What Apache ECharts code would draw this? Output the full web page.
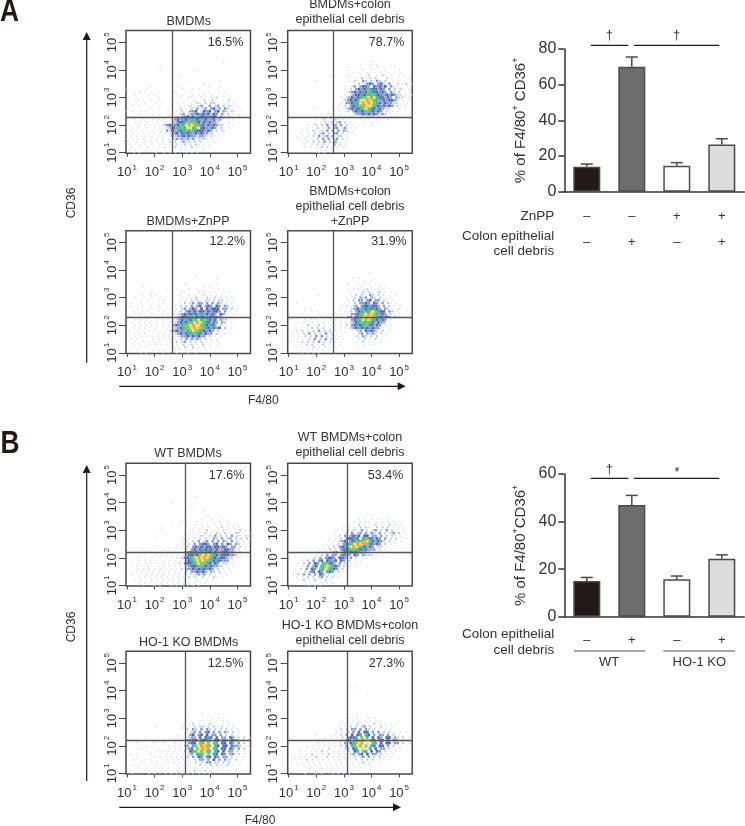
<!DOCTYPE html>
<html>
<head>
<meta charset="utf-8">
<style>html,body{margin:0;padding:0;background:#fff}#chart{width:745px;height:826px}</style>
<script src="https://cdn.jsdelivr.net/npm/echarts@6/dist/echarts.min.js"></script>
</head>
<body>
<div id="chart"></div>
<script>
// bar values
var groupsA = ['BMDMs', 'BMDMs+debris', 'BMDMs+ZnPP', 'BMDMs+debris+ZnPP'];
var meanA = [14, 70, 14.6, 26.4];
var errTopA = [15.5, 75.5, 16.3, 29.7];
var znppSigns = ['–', '–', '+', '+'];
var debrisSignsA = ['–', '+', '–', '+'];
var groupsB = ['WT', 'WT+debris', 'HO-1 KO', 'HO-1 KO+debris'];
var meanB = [15, 47, 15.7, 24.4];
var errTopB = [16.5, 51, 17.1, 26];
var debrisSignsB = ['–', '+', '–', '+'];
var barColors = ['#231815', '#6d6d6d', '#ffffff', '#dcdddd'];

// flow panels
var decades = [1, 2, 3, 4, 5];
var percentages = ['16.5%', '78.7%', '12.2%', '31.9%', '17.6%', '53.4%', '12.5%', '27.3%'];
var gateX = [2.63, 2.63, 2.63, 2.62, 3.1, 3.11, 3.12, 3.11];
var gateY = [2.29, 2.29, 2.29, 2.3, 2.2, 2.2, 2.2, 2.2];

// density, one char per 0.1 decade
// last row is 10^1.0 going up, first column is 10^1.0 going right
var dotsA1 = [
'.....................................1','','..............1','............................1','',
'......................1','','.........................1..........1','..............................1',
'...........1.........1..........1...1','..1......1............1...1.1......1',
'.......1.1....1.....1.....1.....1...1.1','.....1....1.1.......1.1...1.1.1..1...1.1',
'...1..1.......1.......1..11..1.1.1.2.1..1','.1....1.1..1......1.....1.11..2.12...1.2.1',
'...1.....1...1.1.....1.1..1.21.2.22.1.11.1','.1..1.1.......1...1..1.1.2.1231.3.23.2.21.1',
'...1.......1..1....1..2.1.213.23.3423.32.1','..1.1..1.1.......1..1.2.1334.2434.34.32.21.1',
'.......1....1.1...1.1.23.23343434243.3.2.1.1','1..1..1...1...1..1.1223343425445344.32.21.1',
'.1...1..1...1.1.1..1343543564534334232.1.1','..1..1.1.1...1..1.123445366543434332.1.1',
'.1.1...1.1.1..1.2343546576786543434322.1.1','..1.1.1..1..1.1.1234356577567443343.21.1',
'.1..1.1.1...1..1.32435456565444343.2.21','..1.1...1.1.1.1.1.2343454534343322.1.1',
'.1..1.1..1.1..1.1.13233434332332.21.1','..1.1.1.1..1.1.1.1.23232323.2221.1.1',
'...1..1..1.1.1..1.2.2.132212.21.1.1','.1.1...1.1.1..1.1.1.2.12.2.21.1.1',
'..1.1..1..1...1.1.1.2.1.1.2.1.1.1','...1.1...1.1.1..1.1..1.1.1.1..1','.....1.1.....1..1.1.1...1.1.1'];
var dotsA2 = [
'..............................1','..........................1...1.1','.....................1.......1..1.1...1',
'...........................1..11...1....1','.......................1.1..11.1.1..1.1.1','...............1......1...1.12..1.21.1..1.1',
'.....................1..1.2.12.21..2.1.1...1','..........1...........1.21.32.2.32.21.1.1.1','.......................1.2.2343.342.31.2.12.1',
'.....................1.23.3443.43434.32.11.1','....................1.2.34343544343.3.2.21.1.1','.....................123434546544343.32.2.1.1',
'....................1.2344546565453434322.1.1','...................1.23434566767544343.3221.1.1','...................123454677876563434432.1.1',
'...................1.3345578787654343322.1.1','..................1.2.3456687765434343.21.1','.........1......1.1.12345456765434322.1.1.1',
'..............1.1.1.12.34545654343.211.1','............1.1..1.1..1.233434343232.1.1','...........1.1.11.1.1.1.1.21222.2.1.1.1',
'..........1.12.1.21.1.1...1.11..1.1.1','.........1.1.212.23.2.1....1..1.1','.......1.12.2.3.23.3.2.1......1',
'......1.1.2.1.3.33.23.1.1','.....1.1.21.2.3.3.3.32.1','....1..1.2.23.2.33.2.1.1','...1.1.1.2.3.23.3.22.1',
'...1..1.1.2.3.3.23.2.1','.....1.1.2.2.3.2.3.1.1','.....1..1.2.2.1.3.2.1','......1.1.1.2.2.1.1.1','.........1.1.1.1.1','...........1.1'];
var dotsA3 = [
'.........................1','................................1','','.....................1..........1','......1.....................1.1',
'..............1.......1..1.....1.1','.........1..........1.....1.1.1.1..1.1','.....1..1.1........1..1.1..11.1.1.1',
'...1.....1..1.......1.11.2.1.21.2.1.1.1','.....1.1...1.1.....1.1.2.21.22.2.22.1.1','..1..1.......1.....1.2.23.33.3.3.32.1.1',
'.1...1..1..1.....1.2.2.3.34.343.43.32.1','....1....1..1...1.1.23.343.4.43444.33.2.1','..1..1.1...1.1...1.2.3434344343443.3.1.1',
'...1.1...1...1.1.1.23434543534343.43.1.1','.1..1.1.1.1...1.1.23445364543544332.1','...1.1.1...1.1.1.1234354657565434.322.1',
'.1..1.1.1.1..1.1.2345465767654343.32.1','...1.1.1.1.1.1.1.3435667877654543.2.1.1','..1.1.1.1.1...1.123456678786543434.2.1',
'.1..1.1.1.1.1.1.2343565676654343.2.1','..1.1.1..1.1.1.1.23434556543433.21.1','...1.1.1.1.1.1.1.1.2334343433.2.1.1',
'.1.1.1...1.1.1.1.1.2.313232.2.1.1','...1..1.1.1.1...1.2.23.2.2.2.1.1.1','..1.1...1.1.1.1.1.1.2.12.1.21.1.1',
'.....1.1...1...1.1.1.21.2.1.1.1','...1.....1.1.1...1.1.1.1.1.1','.....1.1.....1....1.1.1..1'];
var dotsA4 = [
'.............................1','','.......................1.1','...........................1..1',
'.....................1...1.1.1.1','........................1.11..1..1.1','.....................1.1.1.12.1.1.1',
'......................1..1.2.21.12.1.1','..........1...........1.2.21.32.2.1.1.1','.....................1.12.323.32.2.1.1',
'.....................1.2.33.34.33.21.1','...1..................1.2.3343.43.3.21.1','...................1.1.23.3445443.3.2.1.1',
'......1.1..........1.1.23435454543.32.1.1','........1.1.......1.1.2.34565676544.32.1','.....1.....1.....1.1.1.3346678765343.21.1',
'...1..1..1...1...1.1.23.4567878654343.21.1','.1....1.1.1..1.1.1.1.1.3456767654343.1','...1.1..1.1.1.1.1.1.1.2345656543433.1',
'.....1.2.1.2.1.1.1.1.2.34545654343.1.1','..1.1.1.2.2.2.1.1.1.1.23434543433.1.1','...1.2.1.2.3.2.2.1.1...1.23.43432.2.1',
'.1.1.2.3.2.2.3.2.1.1...1.23.3232.2.1','..1.1.2.2.3.3.2.2.1.....12.32.2.2.1','...1.1.2.3.2.3.2.1.1.....1.2.1.2.1.1',
'.1.1.2.2.2.3.2.2.1.1.....1.2.1.1.1','..1.1.2.2.1.2.1.1.1........1.1.1','...1.1.1.2.1.1.1.1.......1.1','....1.1.1.1.1.1','.....1.1.1.1'];
var dotsB1 = [
'........................1','','...............1','......................1','','..........................1','',
'............................1...1','..........................1...1...1','..................1.1...1.....1.1..1',
'...............1........1.1.1..1.1..1.1','...........1........1..1..1.1..1.2.1.1.1','...........1...........1.1.12.1.1.2.1.1.2.1',
'.....................1.1.1.2.1.21.2.1.22.1.1','....................1.1.1.21.2.3.2.2.3.21.2','.........1.........1.1.1.2.21.32.3.23.2.2.21',
'...................1.1.2.3.23.3.3.32.3.2.1','.................1.1.2.3.3443.34.3.43.32.1','...........1.....1.1.2.3434344344343.33.2.1',
'....1.......1.1.1.1.2.3434545434334433.2.1','..1...1.1.1...1.1.1.2345465654343344332.1','...1.1...1.1.1.1.1.13445467876543444332.1',
'.1.1..1.1..1.1.1.1.2345678787654344322.1','...1.1.1.1..1.1.1.1.3456767865454333.1','.1.1..1.1.1.1.1.1.2.3445676654343.22.1',
'..1.1.1...1.1.1.1.1.23445654543322.1.1','...1.1.1.1.1.1.1.1.2.3343454343.2.1.1','..1.1.1.1.1.1.1.1.1.2.334343.32.2.1.1',
'.1..1.1.1.1.1.1.1.1.1.2.2323.2.1.1.1','...1.1.1.1.1.1.1.1.1.2.21.2.1.21.1','..1.1...1.1.1.1.1.1.1.1.1.1.1.1','...1.1.1...1.1.1.1.1.1.1.1.1','.....1...1.1...1.1.1.1.1.1'];
var dotsB2 = [
'.............................1.1.....1','...........................1.1..1.1..1','.........................1.1.11..1.1.1.1',
'.......................1.1.2.1.1.21.1.2.1.1','.....................1.1.1.2.21..2.2.2.1.1.1','...................1.1.2.21.3.2.23.2.3.2.1.1',
'..................1.1.2.3.23.3.32.3.2.23.2.1','..................1.2.3.3434.44.33.3.2.21.1','................1.1.2.34454.5654343.3.2.2.1.1',
'................1.1.234.5465687543432.2.1.1','...............1.1.2.34567878654343.2.1.1','..............1.1.2.3456787654343.22.1.1',
'............1.1.2.2.3445665454333.2.1.1','...........1.1.2.233.34545433322.1.1','.........1.1.2.3.33.3433.43.3222.1.1',
'.......1.1.2.3.3443.443.3.2.1.1.1','......1.2.3.34.4534.43.2.1.1','.....1.2.3.45.56543.3.2.1.1','....1.1.3.34.5676543.2.1.1',
'....1.2.3.45.6576543.2.1','...1.1.2.34.45.543.2.1','...1.2.3.3.3.43.2.1.1','....1.1.2.2.23.2.2.1','.....1.2.1.2.1.2.1','.......1.1.1.1.1.1','.........1.1.1'];
var dotsB3 = [
'...........................1','......................1....1.1','...............................1.1.1','.....................1.1..11.1..1.1.1',
'.....................1.12.1.1.21.1.1.1','..........1.........1.1.2.22.2.21.2.1.1','....................1.2.32.3.32.2.2.2.1.1',
'.....................1.23.3.34.3.3.32.2.1','...................1.1.34.34.4.33.3.2.2.1','......1.........1.1.1.233.4.454.4.33.43.2.2.1',
'..........1.....1.1.1.3344.5456.44.43.433.2.1','...1.....1...1...1.1.1344.6576.65.44.43.3.2','.......1.......1.1.1.23.5678786.54.44.4332.1','...1.1.....1...1.1.1.234.67878.65.44.43.3.2.1',
'.......1...1.1.1.1.1.2.45676765.54.4.33.2.1','.1.1....1.....1.1.1.1.23.556.6.54.43.33.2.1','....1.....1.1.1.1.1.1.2.3.45.54.43.33.2.1.1','..1...1.1.....1.1.1.1.1.2.33.3.4.3.322.2.1',
'.....1...1.1...1.1.1.1.1.2.2.33.22.2.2.1.1','..1.1.....1.1.....1.1.1.1.2.1.2.2.1.2.1','....1..1.....1.1...1.1.1.1.1.1.1.1.1','......1.1...1.1...1.1.1.2.1.2.1.1.1.1','..1.....1.1...1.1.1.1.1.1.1.1.1'];
var dotsB4 = [
'.......................1.1.','','.............................1','','','','','','','',
'.........................1...1','......................1.1.1...1.1','....................1.1.1.1.1.1.1.1','....................1.1.1.2.1.1.2.1.1.1.1',
'...................1.1.2.2.23.2.1.2.1.1','..................1.2.2.33.3.32.2.1.1.1','..................1.1.2.3.4.44.3.3.2.2.1.1.1','...........1....1.1.2.3.4.45.54.3.33.3.2.1',
'..............1.1.1.2.3445.6.5.4.43.44.32.2.1','............1.1.1.1.2.34.56787.54.44.4.33.2.1','...........1.1.1.1.1.3.45678.7.65.4.44.33.2.1','........1.1.1.1.1.1.2.3.5678.6.54.44.3.2.1',
'.......1.1.1.1.2.1.1.23.45.77.5.4.33.2.1.1','.....1.1.1.1.2.1.1.1.1.2.45.65.4.43.2.1.1','.....1.1.2.1.1.2.1.1.1.23.34.4.33.2.1.1','...1.1.1.1.2.1.2.1.1.1.1.2.23.3.2.2.1.1',
'...1.1.2.1.1.1.1.1.1.1.1.2.2.2.2.1.1.1','..1.1.1.1.1.1.1.1.1.1.1.1.1.2.1.1.1','....1.1.1.1.1.1.1.1...1.1.1.1.1','.......1.1...1.1.1.1.1.1.1.1','....1...1.1...1.1.1.1.1.1.1','.......1...1.1...1.1.1.1'];

var panelDots = [dotsA1, dotsA2, dotsA3, dotsA4, dotsB1, dotsB2, dotsB3, dotsB4];
var panelShift = [-0.25, 0, 0, 0, 0.1, -0.15, 0, -0.1];
var levelColors = ['', '#d6ddf0', '#a9b9e3', '#5f7dca', '#27429f', '#2b9aa6', '#58bb52', '#ece03c', '#ee8a2a'];
var levelSizes = [0, 1.6, 2, 2.4, 2.7, 3, 3, 3, 3];

var font = '"Liberation Sans", Arial, sans-serif';
var ink = '#333';
var frameColor = '#4a4a4a';

// rectangles of the plots on the page
var panelBox = [
  [126, 30.6], [287.7, 30.6], [126, 230.7], [287.7, 230.7],
  [126, 463.3], [287.7, 463.3], [126, 651.3], [287.7, 651.3]
];

function rowsToPoints(rows, dx) {
  var pts = [];
  rows.forEach(function (row, r) {
    var y = 1 + (rows.length - 1 - r) / 10;
    // every other row sits half a bin over so the dots do not form columns
    var shift = (rows.length - 1 - r) % 2 ? 0.05 : 0;
    for (var c = 0; c < row.length; c++) {
      var lev = parseInt(row[c], 10);
      if (lev) pts.push([1 + c / 10 + shift + dx, y, lev]);
    }
  });
  return pts.sort(function (a, b) { return a[2] - b[2]; });
}

var grids = [], xAxes = [], yAxes = [], series = [];

panelBox.forEach(function (box, i) {
  grids.push({
    left: box[0], top: box[1], width: 124.5, height: 122.7,
    show: true, borderColor: frameColor, borderWidth: 1.5
  });
  xAxes.push({
    gridIndex: i, type: 'value', min: 0.964, max: 5.475,
    splitLine: { show: false },
    axisLine: { show: false },
    axisTick: { length: 3.5, customValues: decades, lineStyle: { color: frameColor, width: 1 } },
    axisLabel: {
      customValues: decades, margin: 10,
      formatter: function (v) { return '{b|10}{s|' + v + '}'; },
      rich: {
        b: { fontSize: 13, fontFamily: font, color: ink, lineHeight: 18 },
        s: { fontSize: 8, fontFamily: font, color: ink, verticalAlign: 'top', padding: [0, 0, 0, 1] }
      }
    }
  });
  yAxes.push({
    gridIndex: i, type: 'value', min: 0.978, max: 5.424,
    splitLine: { show: false },
    axisLine: { show: false },
    axisTick: { length: 7, customValues: decades, lineStyle: { color: frameColor, width: 1 } },
    axisLabel: {
      customValues: decades, margin: 5, rotate: 90,
      formatter: function (v) { return '{b|10}{s|' + v + '}'; },
      rich: {
        b: { fontSize: 13, fontFamily: font, color: ink, lineHeight: 18 },
        s: { fontSize: 8, fontFamily: font, color: ink, verticalAlign: 'top', padding: [0, 0, 0, 1] }
      }
    }
  });
  series.push({
    type: 'scatter',
    xAxisIndex: i, yAxisIndex: i,
    data: rowsToPoints(panelDots[i], panelShift[i]),
    symbol: 'rect',
    symbolSize: function (d) { return levelSizes[d[2]]; },
    itemStyle: { color: function (p) { return levelColors[p.data[2]]; } },
    silent: true,
    markLine: {
      silent: true, symbol: 'none', animation: false, label: { show: false },
      lineStyle: { color: '#555', width: 1.3, type: 'solid' },
      data: [{ xAxis: gateX[i] }, { yAxis: gateY[i] }]
    }
  });
});

function addBarPlot(top, yMax, names, means, errs, signFormatter, labelMargin, yTitle) {
  var i = grids.length;
  grids.push({ left: 564.3, top: top, width: 180, height: 142.7 });
  xAxes.push({
    gridIndex: i, type: 'category', data: names,
    axisLine: { onZero: false, lineStyle: { color: ink, width: 1.5 } },
    axisTick: { length: 5, lineStyle: { color: ink, width: 1.5 } },
    axisLabel: {
      interval: 0, margin: labelMargin, color: ink, fontFamily: font, fontSize: 13, lineHeight: 25.6,
      formatter: signFormatter
    }
  });
  yAxes.push({
    gridIndex: i, type: 'value', min: 0, max: yMax, interval: 20,
    splitLine: { show: false },
    axisLine: { show: true, lineStyle: { color: ink, width: 1.5 } },
    axisTick: { show: true, length: 6, lineStyle: { color: ink, width: 1.5 } },
    axisLabel: { margin: 8, color: ink, fontFamily: font, fontSize: 16 },
    name: yTitle, nameLocation: 'middle', nameGap: 33, nameRotate: 90,
    nameTextStyle: {
      rich: {
        t: { fontSize: 15, fontFamily: font, color: ink, lineHeight: 20 },
        s: { fontSize: 9, fontFamily: font, color: ink, verticalAlign: 'top' }
      }
    }
  });
  series.push({
    type: 'bar', xAxisIndex: i, yAxisIndex: i, barWidth: 27,
    data: means.map(function (m, k) { return { value: m, itemStyle: { color: barColors[k] } }; }),
    itemStyle: { borderColor: frameColor, borderWidth: 1.5 },
    silent: true
  });
  series.push({
    type: 'custom', xAxisIndex: i, yAxisIndex: i, silent: true,
    data: errs.map(function (e, k) { return [k, means[k], e]; }),
    renderItem: function (params, api) {
      var base = api.coord([api.value(0), api.value(1)]);
      var tip = api.coord([api.value(0), api.value(2)]);
      var st = { stroke: frameColor, lineWidth: 1.5 };
      return {
        type: 'group',
        children: [
          { type: 'line', shape: { x1: base[0], y1: base[1], x2: tip[0], y2: tip[1] }, style: st },
          { type: 'line', shape: { x1: tip[0] - 6, y1: tip[1], x2: tip[0] + 6, y2: tip[1] }, style: st }
        ]
      };
    }
  });
}

addBarPlot(49, 80, groupsA, meanA, errTopA, function (v, idx) {
  return znppSigns[idx] + '\n' + debrisSignsA[idx];
}, 12, '{t|% of F4/80}{s|+}{t| CD36}{s|+}');

addBarPlot(474, 60, groupsB, meanB, errTopB, function (v, idx) {
  return debrisSignsB[idx];
}, 11, '{t|% of F4/80}{s|+}{t|CD36}{s|+}');

// text and decoration
var gfx = [];
function txt(x, y, s, opt) {
  opt = opt || {};
  gfx.push({
    type: 'text', x: x, y: y, rotation: opt.rot || 0, silent: true,
    scaleX: opt.scaleX || 1,
    style: {
      text: s, align: opt.align || 'center', verticalAlign: 'middle',
      fontSize: opt.size || 12.5, fontFamily: opt.family || font,
      fontWeight: opt.weight || 'normal', fill: opt.color || ink
    }
  });
}
function line(x1, y1, x2, y2, w, c) {
  gfx.push({
    type: 'line', silent: true, shape: { x1: x1, y1: y1, x2: x2, y2: y2 },
    style: { stroke: c || '#231815', lineWidth: w || 1.2 }
  });
}
function arrowUp(x, yTop, yBottom) {
  line(x, yTop + 6, x, yBottom);
  gfx.push({ type: 'polygon', silent: true, shape: { points: [[x, yTop], [x - 4, yTop + 8], [x + 4, yTop + 8]] }, style: { fill: '#231815' } });
}
function arrowRight(y, xLeft, xRight) {
  line(xLeft, y, xRight - 6, y);
  gfx.push({ type: 'polygon', silent: true, shape: { points: [[xRight, y], [xRight - 8, y - 4], [xRight - 8, y + 4]] }, style: { fill: '#231815' } });
}

var letter = { size: 31, weight: 'bold', color: '#231815', align: 'left', scaleX: 0.85 };
txt(0, 12.5, 'A', letter);
txt(0.5, 444.5, 'B', letter);

// panel titles
txt(188.7, 21.7, 'BMDMs');
txt(350, 5, 'BMDMs+colon');
txt(350, 20, 'epithelial cell debris');
txt(188, 221.7, 'BMDMs+ZnPP');
txt(350, 192, 'BMDMs+colon');
txt(350, 207, 'epithelial cell debris');
txt(350, 221.7, '+ZnPP');
txt(188, 454, 'WT BMDMs');
txt(350, 437.7, 'WT BMDMs+colon');
txt(350, 452.7, 'epithelial cell debris');
txt(188.7, 642.3, 'HO-1 KO BMDMs');
txt(350, 625.7, 'HO-1 KO BMDMs+colon');
txt(350, 640.3, 'epithelial cell debris');

// percentages in the upper right gate
var pctPos = [[243.3, 42.3], [404.3, 42.3], [245, 241.7], [406.7, 241.7], [244.3, 476], [403.3, 476], [243.3, 663.3], [404.3, 663.3]];
percentages.forEach(function (p, i) { txt(pctPos[i][0], pctPos[i][1], p, { align: 'right' }); });

// CD36 / F4/80 arrows
arrowUp(86.7, 32, 362.7);
arrowRight(386.3, 119.3, 405.7);
txt(71.7, 203, 'CD36', { rot: Math.PI / 2, size: 12 });
txt(263.3, 400.7, 'F4/80', { size: 12 });
arrowUp(86.7, 465, 781);
arrowRight(807.3, 119.3, 401);
txt(71.7, 627, 'CD36', { rot: Math.PI / 2, size: 12 });
txt(260, 820.7, 'F4/80', { size: 12 });

// significance
line(590.7, 45.3, 628.3, 45.3);
line(634, 45.3, 719.3, 45.3);
txt(609.3, 35.7, '†', { size: 13 });
txt(676.7, 35.7, '†', { size: 13 });
line(590.7, 478.3, 628.3, 478.3);
line(634, 478.3, 719.3, 478.3);
txt(609.3, 469, '†', { size: 13 });
txt(677, 472.7, '*', { size: 13 });

// bar plot row names
txt(554.3, 216.7, 'ZnPP', { align: 'right', size: 13.5 });
txt(554.3, 236.7, 'Colon epithelial', { align: 'right', size: 13.5 });
txt(554.3, 251.7, 'cell debris', { align: 'right', size: 13.5 });
txt(554.3, 634.3, 'Colon epithelial', { align: 'right', size: 13.5 });
txt(554.3, 650, 'cell debris', { align: 'right', size: 13.5 });
line(574, 651, 645, 651, 1.2, '#555');
line(663.3, 651, 735, 651, 1.2, '#555');
txt(609, 662.7, 'WT', { size: 13 });
txt(699.3, 662.7, 'HO-1 KO', { size: 13 });

var chart = echarts.init(document.getElementById('chart'), null, { renderer: 'canvas' });
chart.setOption({
  animation: false,
  backgroundColor: '#fff',
  grid: grids,
  xAxis: xAxes,
  yAxis: yAxes,
  series: series,
  graphic: gfx
});
</script>
</body>
</html>
